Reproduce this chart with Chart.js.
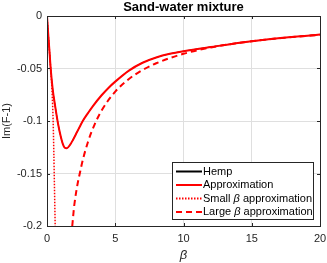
<!DOCTYPE html>
<html>
<head>
<meta charset="utf-8">
<script src="https://cdn.jsdelivr.net/npm/chart.js@4"></script>
<style>
  html, body { margin: 0; padding: 0; background: #fff; }
  #wrap { width: 327px; height: 263px; }
</style>
</head>
<body>
<div id="wrap"><canvas id="graphe"></canvas></div>
<script>
// values
const betaApprox = [0, 0.1, 0.2, 0.27, 0.42, 0.6, 0.83, 1.03, 1.15, 1.3, 1.45, 1.7, 1.9, 2.2, 2.4, 2.62, 3.0, 3.35, 4, 4.5, 5, 6, 7, 8, 9, 10, 12, 15, 20]
const imApprox = [0, -0.019, -0.037, -0.05, -0.07, -0.086, -0.104, -0.116, -0.1215, -0.1255, -0.126, -0.1225, -0.118, -0.1105, -0.1055, -0.1, -0.0925, -0.086, -0.0755, -0.0685, -0.0625, -0.052, -0.0445, -0.0395, -0.036, -0.0335, -0.0295, -0.024, -0.0175]
const imHemp = imApprox.slice()

const betaSmall = [0, 0.1, 0.2, 0.3, 0.38, 0.45, 0.5, 0.55, 0.6]
const imSmall = [0, -0.019, -0.037, -0.056, -0.075, -0.1, -0.13, -0.165, -0.2]

const betaLarge = [1.85, 2, 2.5, 3, 3.5, 4, 5, 6, 7, 8, 10, 12, 14, 16, 18, 20]
const imLarge = [-0.2, -0.18, -0.144, -0.12, -0.103, -0.09, -0.072, -0.06, -0.0515, -0.045, -0.036, -0.030, -0.0257, -0.0225, -0.020, -0.018]

const xTicks = [0, 5, 10, 15, 20]
const yTicks = [0, -0.05, -0.1, -0.15, -0.2]

const police = "'Liberation Sans', Arial, sans-serif"

function pts (xs, ys) {
    let out = []
    for (let i = 0; i < xs.length; i++) {
        out.push({x: xs[i], y: ys[i]})
    }
    return out
}

// box, inward ticks, title and legend drawn matlab-style
const cadre = {
    id: 'cadre',
    afterDatasetsDraw (chart) {
        const ctx = chart.ctx
        const a = chart.chartArea
        const sx = chart.scales.x, sy = chart.scales.y
        ctx.save()
        ctx.strokeStyle = '#262626'
        ctx.lineWidth = 1
        ctx.beginPath()
        xTicks.forEach(v => {
            const px = Math.round(sx.getPixelForValue(v)) + 0.5
            ctx.moveTo(px, a.bottom); ctx.lineTo(px, a.bottom - 3)
            ctx.moveTo(px, a.top); ctx.lineTo(px, a.top + 3)
        })
        yTicks.forEach(v => {
            const py = Math.round(sy.getPixelForValue(v)) + 0.5
            ctx.moveTo(a.left, py); ctx.lineTo(a.left + 3, py)
            ctx.moveTo(a.right, py); ctx.lineTo(a.right - 3, py)
        })
        ctx.stroke()
        ctx.strokeRect(Math.round(a.left) + 0.5, Math.round(a.top) + 0.5, Math.round(a.right - a.left), Math.round(a.bottom - a.top))

        // title
        ctx.fillStyle = '#000'
        ctx.font = 'bold 13px ' + police
        ctx.textAlign = 'center'
        ctx.textBaseline = 'middle'
        ctx.fillText('Sand-water mixture', (a.left + a.right) / 2, 7)

        // legend
        const lx0 = 172, ly0 = 162, lw = 141, lh = 57
        ctx.fillStyle = '#fff'
        ctx.fillRect(lx0, ly0, lw, lh)
        ctx.strokeStyle = '#262626'
        ctx.strokeRect(lx0 + 0.5, ly0 + 0.5, lw, lh)
        ctx.font = '11px ' + police
        ctx.textAlign = 'left'
        chart.data.datasets.forEach((ds, i) => {
            const y = ly0 + 9.5 + i * 13.5
            ctx.strokeStyle = ds.borderColor
            ctx.lineWidth = 2
            ctx.setLineDash(ds.borderDash || [])
            ctx.beginPath()
            ctx.moveTo(lx0 + 4, y); ctx.lineTo(lx0 + 30, y)
            ctx.stroke()
            ctx.setLineDash([])
            ctx.fillStyle = '#000'
            let x = lx0 + 31
            const parts = ds.label.split('β')
            parts.forEach((p, k) => {
                ctx.font = '11px ' + police
                ctx.fillText(p, x, y)
                x += ctx.measureText(p).width
                if (k < parts.length - 1) {
                    ctx.font = 'italic 11px ' + police
                    ctx.fillText('β', x, y)
                    x += ctx.measureText('β').width
                }
            })
        })
        ctx.restore()
    }
}

const ctx = document.getElementById('graphe')
new Chart(ctx, {
    type: 'line',
    data: {
        datasets: [
            {
            label: 'Hemp',
            data: pts(betaApprox, imHemp),
            borderColor: '#000000',
            borderWidth: 1,
            order: 2
            },
            {
            label: 'Approximation',
            data: pts(betaApprox, imApprox),
            borderColor: '#ff0000',
            borderWidth: 2,
            order: 1
            },
            {
            label: 'Small β approximation',
            data: pts(betaSmall, imSmall),
            borderColor: '#ff0000',
            borderWidth: 1.5,
            borderDash: [1.5, 1.5],
            order: 1
            },
            {
            label: 'Large β approximation',
            data: pts(betaLarge, imLarge),
            borderColor: '#ff0000',
            borderWidth: 2,
            borderDash: [6, 4],
            order: 1
            }]
    },
    options: {
        responsive: true,
        maintainAspectRatio: false,
        animation: false,
        layout: { padding: { top: 16, right: 7, left: 0, bottom: 0 } },
        elements: {
            point: { radius: 0 },
            line: { cubicInterpolationMode: 'monotone', fill: false }
        },
        plugins: {
            legend: { display: false },
            title: { display: false },
            tooltip: { enabled: false }
        },
        scales: {
            x: {
                type: 'linear',
                min: 0, max: 20,
                afterBuildTicks: s => { s.ticks = xTicks.map(v => ({value: v})) },
                afterFit: s => { s.height = 37; s.paddingLeft = 0; s.paddingRight = 0 },
                grid: { color: '#dfdfdf', drawTicks: false },
                border: { display: false },
                ticks: { color: '#262626', padding: 6, maxRotation: 0, font: { family: police, size: 11 } },
                title: { display: true, text: 'β', color: '#262626', padding: { top: 6, bottom: 0 }, font: { family: police, size: 13, style: 'italic' } }
            },
            y: {
                min: -0.2, max: 0,
                afterBuildTicks: s => { s.ticks = yTicks.map(v => ({value: v})) },
                afterFit: s => { s.width = 47; s.paddingTop = 0; s.paddingBottom = 0 },
                grid: { color: '#dfdfdf', drawTicks: false },
                border: { display: false },
                ticks: { color: '#262626', padding: 5, font: { family: police, size: 11 },
                    callback: v => String(parseFloat(v.toFixed(2))) },
                title: { display: true, text: 'Im(F-1)', color: '#262626', padding: { top: 0, bottom: 0 }, font: { family: police, size: 11 } }
            }
        }
    },
    plugins: [cadre]
})
</script>
</body>
</html>
